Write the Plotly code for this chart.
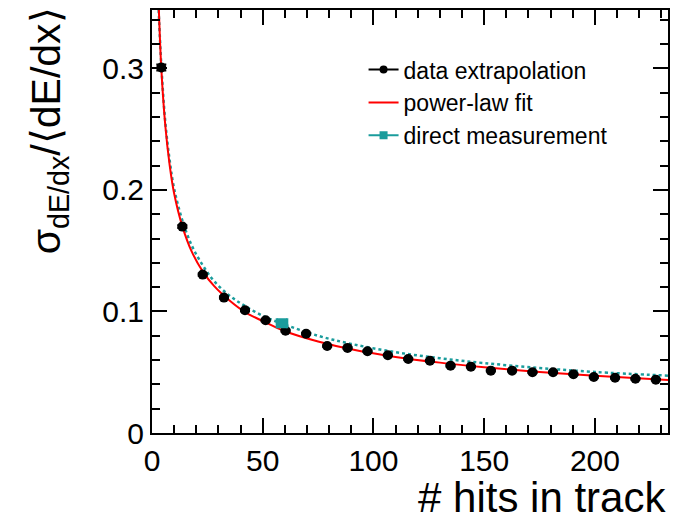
import plotly.graph_objects as go

# data extrapolation points
x_data = [4.2, 13.7, 22.9, 32.5, 42.0, 51.3, 60.3, 69.6, 79.1, 88.3, 97.3, 106.5, 115.7,
          125.5, 134.8, 144.0, 153.0, 162.6, 171.8, 181.1, 190.3, 199.5, 209.1, 218.3, 227.5]
y_data = [0.3007, 0.1698, 0.1303, 0.1114, 0.1010, 0.0927, 0.0842, 0.0817, 0.0716, 0.0700,
          0.0672, 0.0640, 0.0609, 0.0595, 0.0554, 0.0546, 0.0513, 0.0513, 0.0500, 0.0500,
          0.0483, 0.0461, 0.0455, 0.0447, 0.0439]
y_err = [0.0025, 0.0012, 0.0010, 0.0008, 0.0008, 0.0007, 0.0007, 0.0007, 0.0006, 0.0006,
         0.0006, 0.0006, 0.0006, 0.0006, 0.0006, 0.0006, 0.0006, 0.0006, 0.0006, 0.0006,
         0.0006, 0.0006, 0.0006, 0.0006, 0.0006]

# power-law fit curve
x_fit = [3.1, 4.2, 6, 8, 10, 13.7, 18, 22.9, 28, 35, 42, 51, 60, 75, 90, 110, 130, 150, 175, 200, 233]
y_fit = [0.348, 0.300, 0.253, 0.220, 0.197, 0.170, 0.149, 0.133, 0.121, 0.109, 0.0995, 0.0912,
         0.0837, 0.0753, 0.0689, 0.0626, 0.0579, 0.0541, 0.0502, 0.0470, 0.0436]

# direct measurement: single point + dotted curve
x_direct = [58.7]
y_direct = [0.0903]
x_direct_err = [2.4]
x_dcurve = [3.0, 4.2, 6, 8, 10, 13.7, 18, 22.9, 28, 35, 42, 51, 58.7, 75, 90, 110, 130, 150, 175, 200, 233]
y_dcurve = [0.348, 0.303, 0.256, 0.224, 0.201, 0.175, 0.154, 0.138, 0.125, 0.113, 0.1045, 0.0955,
            0.0900, 0.0800, 0.0733, 0.0665, 0.0615, 0.0575, 0.0535, 0.0502, 0.0472]

TEAL = "#1a9c9c"
FONT = "Liberation Sans, Arial, Helvetica, sans-serif"

fig = go.Figure()

fig.add_trace(go.Scatter(x=x_dcurve, y=y_dcurve, mode="lines", line_shape="spline",
                         line=dict(color=TEAL, width=2.5, dash="dot"), showlegend=False))
fig.add_trace(go.Scatter(x=x_fit, y=y_fit, mode="lines", line_shape="spline",
                         line=dict(color="red", width=2), showlegend=False))
fig.add_trace(go.Scatter(x=x_data, y=y_data, mode="markers",
                         marker=dict(color="black", size=10),
                         error_y=dict(type="data", array=y_err, color="black", thickness=2, width=5),
                         showlegend=False))
fig.add_trace(go.Scatter(x=x_direct, y=y_direct, mode="markers",
                         marker=dict(color=TEAL, size=10, symbol="square"),
                         error_x=dict(type="data", array=x_direct_err, color=TEAL, thickness=2, width=5),
                         showlegend=False))

# legend entries
fig.add_trace(go.Scatter(x=[None], y=[None], mode="lines+markers", name="data extrapolation",
                         line=dict(color="black", width=2), marker=dict(color="black", size=8)))
fig.add_trace(go.Scatter(x=[None], y=[None], mode="lines", name="power-law fit",
                         line=dict(color="red", width=2)))
fig.add_trace(go.Scatter(x=[None], y=[None], mode="lines+markers", name="direct measurement",
                         line=dict(color=TEAL, width=2), marker=dict(color=TEAL, size=8, symbol="square")))

axis_common = dict(
    showline=True, linecolor="black", linewidth=2, mirror="allticks",
    ticks="inside", ticklen=15, tickwidth=1.5, tickcolor="black",
    showgrid=False, zeroline=False, automargin=False,
    tickfont=dict(family=FONT, size=30, color="black"),
)

fig.update_xaxes(range=[0, 233], dtick=50, tick0=0,
                 minor=dict(dtick=10, ticklen=8, ticks="inside", tickcolor="black", tickwidth=1.5),
                 **axis_common)
fig.update_yaxes(range=[0, 0.348], dtick=0.1, tick0=0,
                 minor=dict(dtick=0.02, ticklen=8, ticks="inside", tickcolor="black", tickwidth=1.5),
                 **axis_common)

fig.add_annotation(text="# hits in track", xref="paper", yref="paper", x=1.0, y=0,
                   xanchor="right", yanchor="top", yshift=-39,
                   showarrow=False, font=dict(family=FONT, size=42, color="black"))
fig.add_annotation(text="σ<sub>dE/dx</sub>/⟨dE/dx⟩", xref="paper", yref="paper", x=-0.2, y=1,
                   xanchor="center", yanchor="top", yshift=5, textangle=-90, showarrow=False,
                   font=dict(family=FONT, size=41, color="black"))

# the page puts the figure 8px in from the top-left corner
fig.update_layout(
    width=684, height=517,
    margin=dict(l=144, r=24, t=2, b=92),
    plot_bgcolor="white", paper_bgcolor="white",
    legend=dict(x=0.41, y=0.91, xanchor="left", yanchor="top", bgcolor="rgba(0,0,0,0)",
                font=dict(family=FONT, size=23, color="black")),
)

fig.write_html("out.html")
